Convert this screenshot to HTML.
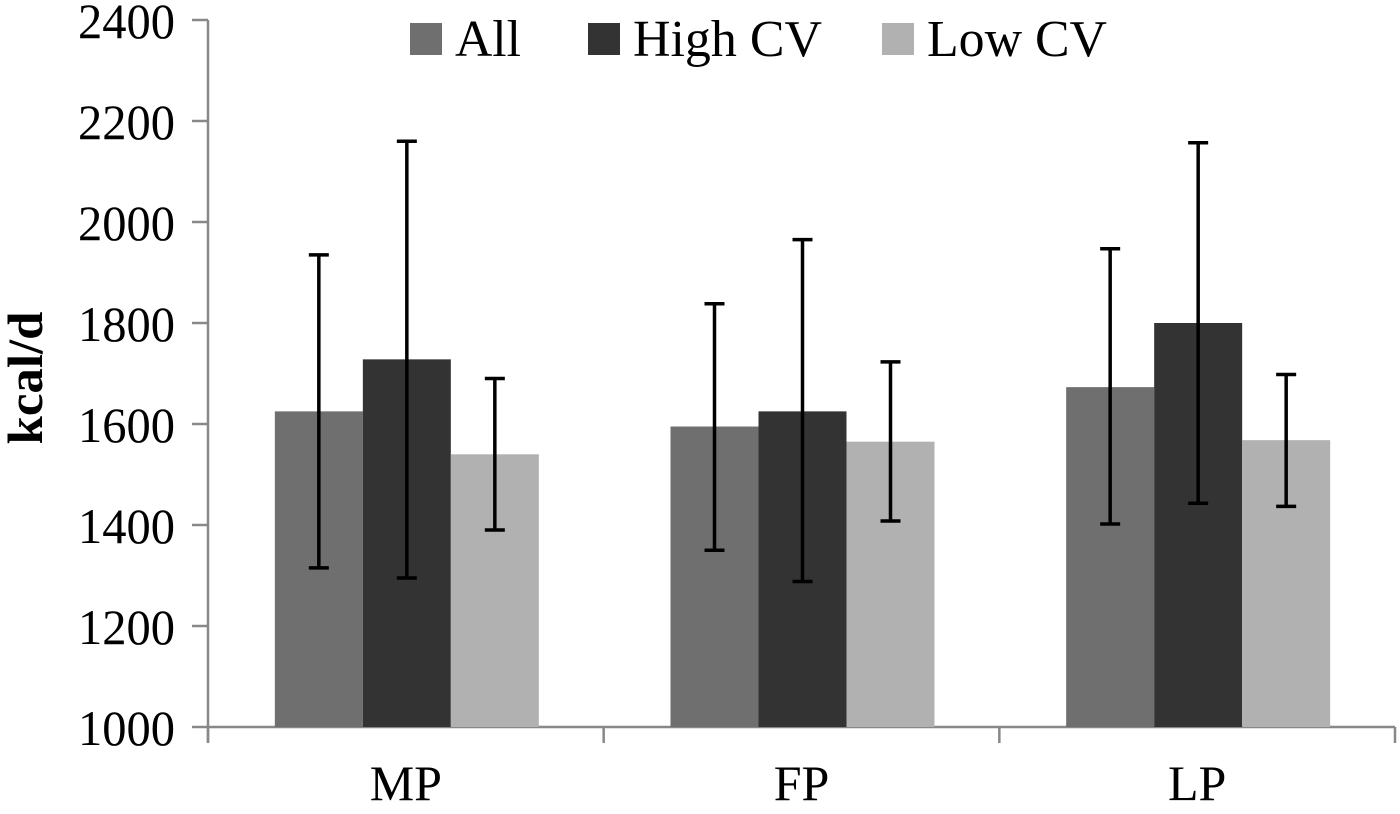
<!DOCTYPE html>
<html><head><meta charset="utf-8"><style>
body{margin:0;background:#fff;}
svg text{font-family:"Liberation Serif",serif;fill:#000;}
</style></head><body>
<svg id="chart" width="1400" height="809">
<g id="axes"></g><g id="bars"></g><g id="legend"></g>
</svg>
<script>
const categories=["MP","FP","LP"];
const seriesNames=["All","High CV","Low CV"];
const seriesColors=["#6f6f6f","#333333","#b1b1b1"];
const allVals=[1625,1595,1673];
const highVals=[1728,1625,1800];
const lowVals=[1540,1565,1568];
const allLo=[1315,1350,1402];
const allHi=[1935,1838,1947];
const highLo=[1295,1288,1443];
const highHi=[2160,1965,2157];
const lowLo=[1390,1408,1437];
const lowHi=[1690,1723,1698];
const yTicks=[1000,1200,1400,1600,1800,2000,2200,2400];

const NS="http://www.w3.org/2000/svg";
const x0=208,x1=1395,yB=727,yT=20,vMin=1000,vMax=2400;
const y=v=>yB-(v-vMin)/(vMax-vMin)*(yB-yT);
const gw=(x1-x0)/categories.length;
const bw=88;
function mk(tag,attrs,parent,txt){const e=document.createElementNS(NS,tag);for(const k in attrs)e.setAttribute(k,attrs[k]);if(txt!==undefined)e.textContent=txt;parent.appendChild(e);return e;}
const axes=document.getElementById('axes'),bars=document.getElementById('bars'),leg=document.getElementById('legend');

let e=mk('line',{x1:x0,y1:yT,x2:x0,y2:yB+16,stroke:'#888','stroke-width':2.5},axes);


e=mk('line',{x1:x0,y1:yB,x2:x1,y2:yB,stroke:'#888','stroke-width':2.5},axes);


yTicks.forEach(t=>{
  mk('line',{x1:x0-16,y1:y(t),x2:x0,y2:y(t),stroke:'#888','stroke-width':2.5},axes);
  const tx=mk('text',{x:175,y:y(t)+18,'text-anchor':'end','font-size':50,textLength:97,lengthAdjust:'spacingAndGlyphs'},axes,t);
  
  
});
for(let i=0;i<=categories.length;i++){mk('line',{x1:x0+i*gw,y1:yB,x2:x0+i*gw,y2:yB+16,stroke:'#888','stroke-width':2.5},axes);}
categories.forEach((c,i)=>{
  const tx=mk('text',{x:x0+(i+0.5)*gw,y:yB+73,'text-anchor':'middle','font-size':50},axes,c);
  
  
});
const yt=mk('text',{x:0,y:0,transform:'translate(42,378) rotate(-90)','text-anchor':'middle','font-size':50,'font-weight':'bold',textLength:133,lengthAdjust:'spacingAndGlyphs'},axes,'kcal/d');



const vals=[allVals,highVals,lowVals],los=[allLo,highLo,lowLo],his=[allHi,highHi,lowHi];
categories.forEach((c,i)=>{
  const cx=x0+(i+0.5)*gw+1;
  vals.forEach((sv,s)=>{
    const bx=cx-1.5*bw+s*bw;
    const r=mk('rect',{x:bx,y:y(sv[i]),width:bw,height:yB-y(sv[i]),fill:seriesColors[s]},bars);
    
    
    const mx=bx+bw/2;
    const g=mk('g',{stroke:'#000','stroke-width':3.5},bars);
    
    
    mk('line',{x1:mx,y1:y(his[s][i]),x2:mx,y2:y(los[s][i])},g);
    mk('line',{x1:mx-10,y1:y(his[s][i]),x2:mx+10,y2:y(his[s][i])},g);
    mk('line',{x1:mx-10,y1:y(los[s][i]),x2:mx+10,y2:y(los[s][i])},g);
  });
});
const lx=[410,588,882];
const tw=[66,189,180];
seriesNames.forEach((n,s)=>{
  const g=mk('g',{},leg);
  
  
  mk('rect',{x:lx[s],y:23,width:32,height:32,fill:seriesColors[s]},g);
  mk('text',{x:lx[s]+45,y:56,'font-size':52,textLength:tw[s],lengthAdjust:'spacingAndGlyphs'},g,n);
});
</script>
</body></html>
